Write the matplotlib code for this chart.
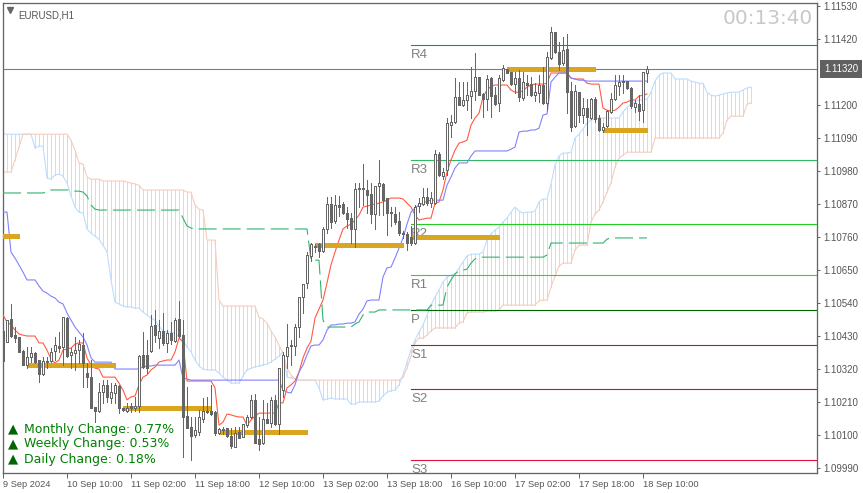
import numpy as np
import matplotlib
matplotlib.use("Agg")
import matplotlib.pyplot as plt

# all prices are kept in points above 1.10000
opens = [447,410,487,433,427,380,333,360,373,350,303,343,347,380,397,393,490,367,373,383,400,307,293,193,180,243,267,223,240,263,190,180,197,190,197,367,367,380,467,423,447,407,440,413,487,433,163,127,100,110,153,180,180,177,107,117,123,97,60,110,93,133,160,217,87,73,153,140,217,137,250,363,397,397,460,560,607,697,727,737,713,787,870,813,867,870,840,823,787,923,923,917,903,837,930,937,890,843,837,813,773,770,760,740,863,870,893,873,873,1037,963,983,1133,1143,1227,1200,1217,1230,1247,1293,1237,1220,1290,1233,1207,1283,1320,1310,1270,1290,1223,1273,1270,1233,1240,1267,1207,1357,1443,1377,1340,1387,1247,1130,1243,1167,1190,1157,1220,1157,1117,1130,1177,1220,1263,1280,1280,1257,1193,1203,1183,1307]
highs = [450,483,537,460,427,383,393,393,377,350,360,360,390,427,443,493,493,390,427,417,440,340,350,193,273,283,283,273,273,267,190,207,207,227,367,443,417,500,517,483,507,450,477,490,547,483,260,160,160,183,223,227,267,180,123,127,123,123,127,127,137,167,233,237,160,217,207,227,233,323,377,470,417,470,560,603,710,740,737,740,793,893,893,900,897,877,860,840,940,940,1003,950,940,930,1017,940,890,860,860,843,780,777,797,867,890,923,923,910,1050,1043,990,1157,1167,1290,1277,1277,1277,1327,1373,1293,1240,1300,1293,1260,1300,1333,1320,1310,1310,1317,1310,1300,1293,1273,1300,1327,1377,1460,1443,1410,1427,1437,1277,1267,1243,1223,1220,1223,1227,1167,1140,1183,1240,1300,1300,1300,1280,1260,1217,1233,1310,1330]
lows = [347,410,427,410,377,333,323,343,340,277,300,323,343,350,377,333,360,323,317,340,260,260,190,143,177,207,210,207,207,173,180,177,177,180,177,323,307,377,410,390,400,377,403,410,427,27,123,17,93,100,143,173,167,100,103,103,93,57,60,90,93,127,157,73,50,70,140,127,133,103,227,323,333,367,427,507,590,680,710,693,710,773,790,807,830,837,790,740,727,860,867,840,807,787,833,833,767,797,803,767,757,717,733,737,843,867,867,860,870,963,953,967,1093,1140,1200,1197,1183,1157,1217,1233,1160,1183,1160,1200,1180,1280,1307,1267,1240,1213,1217,1233,1230,1213,1210,1203,1183,1353,1373,1317,1333,1173,1113,1127,1143,1140,1100,1153,1143,1113,1110,1127,1173,1217,1233,1240,1253,1190,1177,1150,1143,1277]
closes = [347,483,430,423,377,333,360,373,343,303,347,347,377,400,390,493,363,377,383,403,340,293,190,180,243,267,227,243,267,190,183,190,190,197,363,327,323,463,433,447,407,440,417,483,430,160,123,97,117,160,180,177,170,107,120,120,97,63,107,90,137,160,217,73,70,153,140,217,137,323,367,393,400,460,560,603,700,737,730,713,787,870,810,867,860,840,820,787,920,920,920,900,837,930,940,883,840,840,810,773,770,740,740,860,873,893,873,890,1037,967,977,1140,1143,1227,1200,1217,1233,1247,1293,1233,1220,1287,1230,1203,1290,1323,1307,1270,1290,1227,1277,1267,1233,1243,1267,1207,1360,1443,1377,1337,1383,1243,1127,1247,1167,1190,1160,1220,1153,1117,1127,1180,1220,1267,1277,1277,1257,1197,1207,1180,1310,1320]

tenkan = [500,477,467,450,437,433,430,430,430,407,407,383,353,340,350,383,387,390,403,407,407,357,333,323,320,293,293,293,293,273,250,217,227,230,267,293,300,317,327,343,347,350,350,377,423,410] + [280]*7 + [257,133,143,170,167,163,160,160,133,150,163] + [173]*5 + [207,207,257,267,280,310,357,390,413,490,520,550,607,667,710,750,787,797,803,817,833,860,863,867,870,873,877,883,890,890,890,887,873,860,833,817,820,823,823,873,877,917,977,1017,1050,1073,1077,1083,1133,1157,1173,1227,1250,1263,1267,1267,1267,1267,1250,1243,1243,1247,1260,1267,1270,1270,1270,1273] + [1307]*5 + [1290,1287,1287,1287,1273,1270,1270,1270,1190,1183,1180,1183,1193,1207,1210,1217,1217,1230,1233,1237]
kijun = [843,843,710,690,667,643,617,617,617,597,580,573,563,557,543,537,507,483,460,443,427,400,357,343] + [343]*4 + [320]*7 + [327,330,330] + [333]*6 + [350,290,287] + [283]*23 + [250,243,240,267,310,333,367,397,400,400,417,450,467,467,470,470,473,473,477,503,520,547,550,550,550,627,657,660,690,723,757,803,843,857,867,873,880,883,883,883,883,933,960,990,1007,1007,1007,1030] + [1047]*9 + [1053,1060,1110,1113,1113,1117,1117,1123,1167,1170,1277,1293,1307,1307,1307,1290,1287,1283,1283] + [1280]*16
chikou = [907]*11 + [910] + [917]*6 + [913,913,910,897,867,853] + [850]*21 + [823,797,790] + [787]*29 + [683]*3 + [483] + [460]*7 + [470,477,500,510,510,510] + [517]*13 + [533]*4 + [593,617,637,647,650,653,673,687] + [693]*17 + [700] + [740]*14 + [753] + [757]*10
senkou_a = [1103]*8 + [1057,1063,1063,957,953,967,970,963,940,897,860,843,840,787,773,763,753,733,710,617,543,537,530,527,527,523,523,510,500,490,483,463,447,443,443,440,427,417,393,377,350,330,320,317,317,317,307,293,283,273,273,273,297,317,323,327,330,333,337,343,353,363,377,293,290,287] + [283]*5 + [257,217,220,223,220,220,220,220,203,203] + [210]*5 + [213,230,243,247,250,267,300,343,383,417,443,467,500,533,560,583,610,627,633,637,657,677,697,703,703,703,710,750,770,783,793,810,823,843,860,847,840,843,843,847,877,887,887,937,1000,1030,1040,1040,1043,1090,1103,1120,1140,1150,1153] + [1157]*6 + [1177,1193,1203,1210,1217,1217,1220,1243,1280,1300,1307,1307,1307,1287,1287,1287,1287,1280,1277,1273,1273,1243,1233,1230,1233,1237,1240,1243,1243,1243,1250,1257,1260]
senkou_b = [977]*3 + [1017,1060] + [1103]*12 + [1083,1050,1007,1003,960,953,953,953] + [947]*6 + [943,940,937,933] + [917]*11 + [910,910,867,853,850,750,750,750,550] + [530]*9 + [493,487,473,447,427,400,373,323,300,287] + [283]*26 + [293,323,363,407,423,423,433,447] + [457]*6 + [473,477,507,510,510,510,510,513,513,513,517] + [533]*9 + [547,550,550,593,630,663,673,673,673,717,733,733,733,810,837,850,877,910,940,993,1023,1033] + [1043]*7 + [1090]*17 + [1107,1150,1163,1163,1163,1163,1203,1207]

# daily open segments (first bar, last bar, level)
seg_start = [0, 6, 30, 54, 78, 102, 126, 150]
seg_end = [4, 28, 52, 76, 100, 124, 148, 161]
seg_level = [763, 333, 190, 110, 733, 760, 1320, 1117]

pivot_names = ["R4", "R3", "R2", "R1", "P", "S1", "S2", "S3"]
pivot_levels = [1400, 1017, 803, 633, 517, 400, 253, 17]
pivot_colors = ["#3a7d5e", "#2eb85f", "#22cc22", "#22dd22", "#006400", "#b01c28", "#c8102e", "#dc143c"]

price_ticks = [1.1153, 1.1142, 1.1120, 1.1109, 1.1098, 1.1087, 1.1076, 1.1065, 1.1054, 1.1043, 1.1032, 1.1021, 1.1010, 1.0999]
time_labels = ["9 Sep 2024", "10 Sep 10:00", "11 Sep 02:00", "11 Sep 18:00", "12 Sep 10:00", "13 Sep 02:00",
               "13 Sep 18:00", "16 Sep 10:00", "17 Sep 02:00", "17 Sep 18:00", "18 Sep 10:00"]
last_price = 1.1132
changes = ["Monthly Change: 0.77%", "Weekly Change: 0.53%", "Daily Change: 0.18%"]


def price(points):
    return 1.1 + np.array(points, dtype=float) / 100000


W, H = 863, 493
GRAY = "#646464"
PX = 0.72  # one pixel in points at dpi 100
plt.rcParams["lines.scale_dashes"] = False
plt.rcParams["font.family"] = ["Liberation Sans", "DejaVu Sans"]

fig = plt.figure(figsize=(W / 100, H / 100), dpi=100)
ax = fig.add_axes([2.5 / W, 1 - 472.5 / H, (817 - 2.5) / W, (472.5 - 2.5) / H])
ax.set_xlim(-0.125, 203.5)
ax.set_ylim(1.09975, 1.11542)

# cloud
a = price(senkou_a)
b = price(senkou_b)
bars = np.arange(len(a))
hatch_cols = ["#c4e0ff" if u >= v else "#f7d2c2" for u, v in zip(a, b)]
ax.vlines(bars, a, b, colors=hatch_cols, lw=PX, zorder=1, antialiased=False)
ax.plot(bars, a, color="#bbddff", lw=PX * 1.1, zorder=2)
ax.plot(bars, b, color="#f5cdbb", lw=PX * 1.1, zorder=2)

# pivots and last price line
for name, lev, col in zip(pivot_names, pivot_levels, pivot_colors):
    ax.plot([102, 203.5], [price(lev), price(lev)], color=col, lw=PX * 1.1, zorder=3)
    ax.annotate(name, (102, price(lev)), xytext=(0, -2.8), textcoords="offset points", va="top", ha="left",
                fontsize=9.5, color="#808080", zorder=4, annotation_clip=False, clip_on=True)
ax.axhline(last_price, color="#708090", lw=PX * 1.1, zorder=3)

# ichimoku lines
ax.plot(np.arange(len(tenkan)), price(tenkan), color="#ff5a40", lw=PX * 1.1, zorder=4)
ax.plot(np.arange(len(kijun)), price(kijun), color="#8080ff", lw=PX * 1.1, zorder=4)
ax.plot(np.arange(len(chikou)), price(chikou), color="#2eb46e", lw=PX * 1.1, zorder=4, ls=(0, (13, 4.3)))

# daily levels
for s, e, lev in zip(seg_start, seg_end, seg_level):
    ax.plot([s, e], [price(lev), price(lev)], color="#daa520", lw=PX * 3.4, zorder=5, solid_capstyle="butt", antialiased=False)

# candles
o = price(opens)
c = price(closes)
idx = np.arange(len(o))
ax.vlines(idx, price(lows), price(highs), color="#666666", lw=PX, zorder=6, antialiased=False)
body_fc = ["white" if cl >= op else "#666666" for op, cl in zip(o, c)]
ax.bar(idx, np.abs(c - o), bottom=np.minimum(o, c), width=0.5, color=body_fc, edgecolor="#666666", lw=PX, zorder=7, antialiased=False)

# axes
for sp in ax.spines.values():
    sp.set_color(GRAY)
    sp.set_linewidth(PX * 1.3)
ax.yaxis.tick_right()
ax.set_yticks(price_ticks)
ax.set_yticklabels(["%.5f" % t for t in price_ticks])
ax.tick_params(axis="y", length=2.2, width=PX, color=GRAY, labelcolor="#555555", labelsize=7, pad=2.5)
ax.set_xticks(np.arange(len(time_labels)) * 16)
ax.set_xticklabels(time_labels, ha="left")
ax.tick_params(axis="x", length=3.6, width=PX, color=GRAY, labelcolor="#555555", labelsize=6.7, pad=1.5)

# current price box
ax.text(1.0086, last_price, "%.5f" % last_price, transform=ax.get_yaxis_transform(), color="white", fontsize=7,
        va="center", ha="left", clip_on=False, bbox=dict(fc="#606060", ec="none", boxstyle="square,pad=0.42"), zorder=10)

# title and clock
ax.plot([0.0086], [0.983], marker="v", ms=4, color="#666666", transform=ax.transAxes, zorder=8, clip_on=False)
ax.text(15.5 / 814.5, 0.9835, "EURUSD,H1", transform=ax.transAxes, color="#555555", fontsize=7, va="top", ha="left")
ax.text(812.5 / W, 1 - 18 / H, "00:13:40", transform=fig.transFigure, color="#c8c8c8", fontsize=14.4, family="DejaVu Sans",
        va="center", ha="right", zorder=8)

# change labels
for y_px, txt in zip([429, 444, 459], changes):
    fig.text(8 / W, 1 - y_px / H, "\u25b2", color="#006400", fontsize=9.5, family="DejaVu Sans", va="center", ha="left", zorder=9)
    fig.text(24 / W, 1 - y_px / H, txt, color="#008000", fontsize=9, family="DejaVu Sans", va="center", ha="left", zorder=9)

fig.savefig("out.png", dpi=100, facecolor="white")
